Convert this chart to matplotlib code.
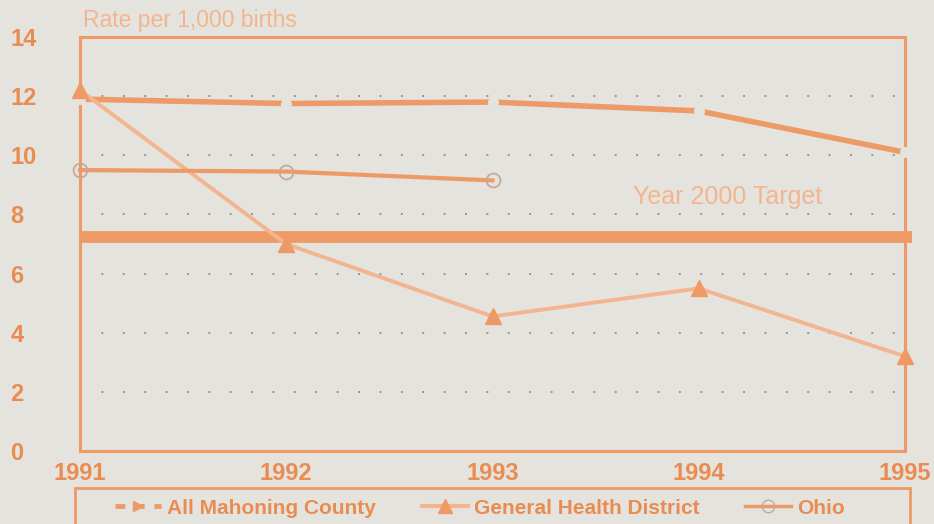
import matplotlib.pyplot as plt
from matplotlib.lines import Line2D
from matplotlib.patches import Rectangle

# infant mortality, rate per 1,000 births
years = [1991, 1992, 1993, 1994, 1995]
mahoning = [11.9, 11.75, 11.8, 11.5, 10.1]
general_health = [12.2, 7.0, 4.55, 5.5, 3.2]
ohio_years = [1991, 1992, 1993]
ohio = [9.5, 9.45, 9.15]
target_2000 = 7.25
y_ticks = [0, 2, 4, 6, 8, 10, 12, 14]

BG = "#e4e3dd"
ORANGE = "#ee9a66"
LIGHT = "#f3b590"
TEXT = "#ea8c52"

plt.rcParams["font.family"] = ["Liberation Sans", "DejaVu Sans"]

fig = plt.figure(figsize=(9.34, 5.24), dpi=100, facecolor=BG)
ax = fig.add_axes([80 / 934, 1 - 451 / 524, 825 / 934, 414 / 524])
ax.set_facecolor(BG)

ax.set_xlim(1991, 1995)
ax.set_ylim(0, 14)

# dotted guide lines
for y in y_ticks[1:-1]:
    ax.axhline(y, color="#959595", lw=1.4, ls=(0, (1, 10)), zorder=1)

# year 2000 target band
ax.plot([1991, 1995.035], [target_2000, target_2000], color=ORANGE, lw=8.5,
        solid_capstyle="butt", clip_on=False, zorder=2)
ax.text(1994.14, target_2000 + 1.34, "Year 2000 Target", color=LIGHT, fontsize=18,
        ha="center", va="center")

ax.plot(years, mahoning, color=ORANGE, lw=4, marker="o", ms=7,
        mfc=BG, mec=BG, clip_on=False, zorder=3)
ax.plot(years, general_health, color=LIGHT, lw=2.8, marker="^", ms=11,
        mfc=ORANGE, mec=ORANGE, clip_on=False, zorder=4)
ax.plot(ohio_years, ohio, color=ORANGE, lw=3, marker="o", ms=10,
        mfc="none", mec="#c9a898", mew=1.3, clip_on=False, zorder=5)

for s in ax.spines.values():
    s.set_color(ORANGE)
    s.set_linewidth(2.2)

ax.set_xticks(years)
ax.set_xticklabels([str(y) for y in years])
ax.set_yticks(y_ticks)
ax.tick_params(length=0, colors=TEXT, labelsize=17)
ax.tick_params(axis="y", pad=50)
ax.tick_params(axis="x", pad=8)
for lab in ax.get_yticklabels():
    lab.set_ha("left")
    lab.set_fontweight("bold")
for lab in ax.get_xticklabels():
    lab.set_fontweight("bold")

fig.text(83 / 934, 1 - 21 / 524, "Rate per 1,000 births", color=LIGHT, fontsize=16.5,
         va="center")

# legend box runs off the bottom edge
fig.patches.append(Rectangle((75 / 934, -0.02), 835 / 934, 0.02 + 1 - 488 / 524,
                             transform=fig.transFigure, facecolor="none",
                             edgecolor=ORANGE, lw=2))
handles = [
    Line2D([], [], color=ORANGE, lw=3.5, ls=(0, (2, 2)), marker=">", ms=7, mfc=ORANGE, mec=ORANGE),
    Line2D([], [], color=LIGHT, lw=3, marker="^", ms=10, mfc=ORANGE, mec=ORANGE),
    Line2D([], [], color=ORANGE, lw=2.5, marker="o", ms=9, mfc="none", mec="#c9a898"),
]
leg = fig.legend(handles, ["All Mahoning County", "General Health District", "Ohio"],
                 loc="center left", bbox_to_anchor=(115 / 934, 1 - 508 / 524),
                 ncol=3, frameon=False, handlelength=2.2, handletextpad=0.3,
                 columnspacing=2.2, prop={"weight": "bold", "size": 15}, labelcolor=TEXT,
                 borderpad=0, borderaxespad=0)

fig.savefig("out.png", dpi=100, facecolor=BG)
